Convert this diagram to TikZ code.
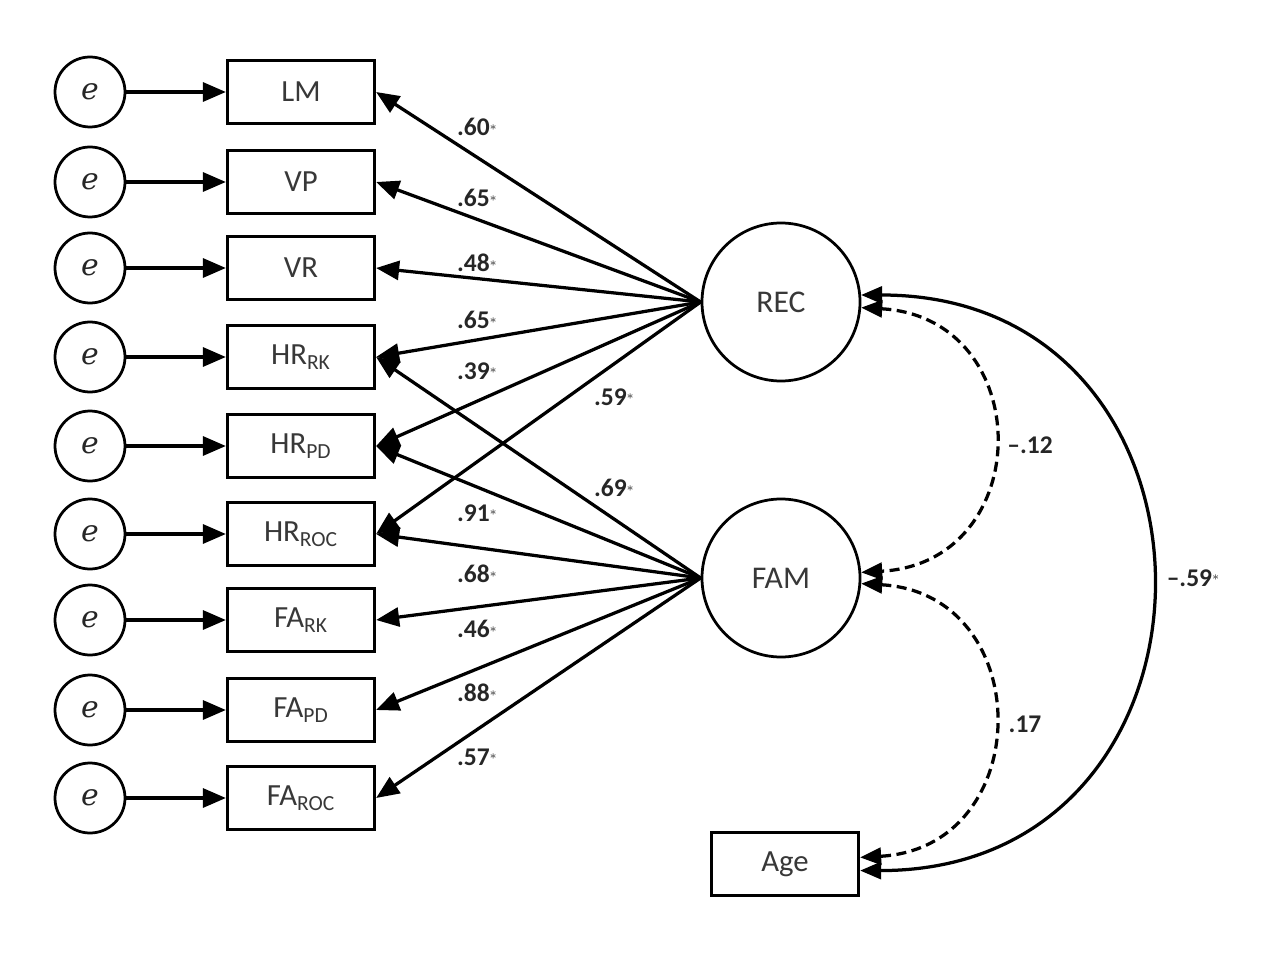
\documentclass[tikz,border=0pt]{standalone}
\usepackage{fontspec}
\setmainfont{Carlito}
\newfontfamily\errfont{DejaVu Serif}
\usetikzlibrary{arrows.meta}

\newcommand{\sig}{\raisebox{0.45ex}{$\scriptscriptstyle\ast$}}

\begin{document}
\begin{tikzpicture}[x=0.2mm, y=-0.2mm, line width=0.65mm,
	obs/.style={draw, rectangle, minimum width=29.4mm, minimum height=12.6mm, inner sep=0pt,
		font=\fontsize{17.5}{20}\selectfont, text=black!78},
	err/.style={draw, circle, minimum size=14mm, inner sep=0pt, line width=0.55mm,
		font=\errfont\itshape\fontsize{17}{20}\selectfont, text=black!85},
	lat/.style={draw, circle, minimum size=31.6mm, inner sep=0pt, line width=0.55mm,
		font=\fontsize{18}{20}\selectfont, text=black!78},
	coef/.style={font=\bfseries\fontsize{14.5}{16}\selectfont, text=black!85},
	tip/.style={-{Triangle[length=4.6mm, width=3.8mm]}},
	cov/.style={{Triangle[length=4.2mm, width=3.4mm]}-{Triangle[length=4.2mm, width=3.4mm]}},
	]
	\useasboundingbox (0,0) rectangle (1262,960);
	
	\node [err] (e1) at (90,92) {e};
	\node [err] (e2) at (90,182) {e};
	\node [err] (e3) at (90,268) {e};
	\node [err] (e4) at (90,357) {e};
	\node [err] (e5) at (90,446) {e};
	\node [err] (e6) at (90,534) {e};
	\node [err] (e7) at (90,620) {e};
	\node [err] (e8) at (90,710) {e};
	\node [err] (e9) at (90,798) {e};
	
	\node [obs] (LM) at (301,92) {LM};
	\node [obs] (VP) at (301,182) {VP};
	\node [obs] (VR) at (301,268) {VR};
	\node [obs] (HRrk) at (301,357) {HR\textsubscript{RK}};
	\node [obs] (HRpd) at (301,446) {HR\textsubscript{PD}};
	\node [obs] (HRroc) at (301,534) {HR\textsubscript{ROC}};
	\node [obs] (FArk) at (301,620) {FA\textsubscript{RK}};
	\node [obs] (FApd) at (301,710) {FA\textsubscript{PD}};
	\node [obs] (FAroc) at (301,798) {FA\textsubscript{ROC}};
	
	\node [lat] (REC) at (781,302) {REC};
	\node [lat] (FAM) at (781,578) {FAM};
	\node [obs] (Age) at (785,864) {Age};
	
	\draw [tip] (e1) -- (LM);
	\draw [tip] (e2) -- (VP);
	\draw [tip] (e3) -- (VR);
	\draw [tip] (e4) -- (HRrk);
	\draw [tip] (e5) -- (HRpd);
	\draw [tip] (e6) -- (HRroc);
	\draw [tip] (e7) -- (FArk);
	\draw [tip] (e8) -- (FApd);
	\draw [tip] (e9) -- (FAroc);
	
	\draw [tip] (REC.west) -- (LM.east);
	\draw [tip] (REC.west) -- (VP.east);
	\draw [tip] (REC.west) -- (VR.east);
	\draw [tip] (REC.west) -- (HRrk.east);
	\draw [tip] (REC.west) -- (HRpd.east);
	\draw [tip] (REC.west) -- (HRroc.east);
	\draw [tip] (FAM.west) -- (HRrk.east);
	\draw [tip] (FAM.west) -- (HRpd.east);
	\draw [tip] (FAM.west) -- (HRroc.east);
	\draw [tip] (FAM.west) -- (FArk.east);
	\draw [tip] (FAM.west) -- (FApd.east);
	\draw [tip] (FAM.west) -- (FAroc.east);
	
	\draw [cov, dash pattern=on 2mm off 1.1mm] (REC.-4) .. controls +(176,10) and +(176,-10) .. (FAM.4);
	\draw [cov, dash pattern=on 2mm off 1.1mm] (FAM.-4) .. controls +(176,10) and +(177,-10) .. (Age.5);
	\draw [cov] (REC.5) .. controls +(386,0) and +(387,0) .. (Age.-5);
	
	\node [coef] (c1) at (477,127) {.60\sig};
	\node [coef] (c2) at (477,198) {.65\sig};
	\node [coef] (c3) at (477,263) {.48\sig};
	\node [coef] (c4) at (477,320) {.65\sig};
	\node [coef] (c5) at (477,371) {.39\sig};
	\node [coef] (c6) at (614,397) {.59\sig};
	\node [coef] (c7) at (614,488) {.69\sig};
	\node [coef] (c8) at (477,513) {.91\sig};
	\node [coef] (c9) at (477,574) {.68\sig};
	\node [coef] (c10) at (477,629) {.46\sig};
	\node [coef] (c11) at (477,693) {.88\sig};
	\node [coef] (c12) at (477,757) {.57\sig};
	\node [coef] (c13) at (1030,445) {\textendash.12};
	\node [coef] (c14) at (1025,724) {.17};
	\node [coef] (c15) at (1193,578) {\textendash.59\sig};
	
\end{tikzpicture}
\end{document}
